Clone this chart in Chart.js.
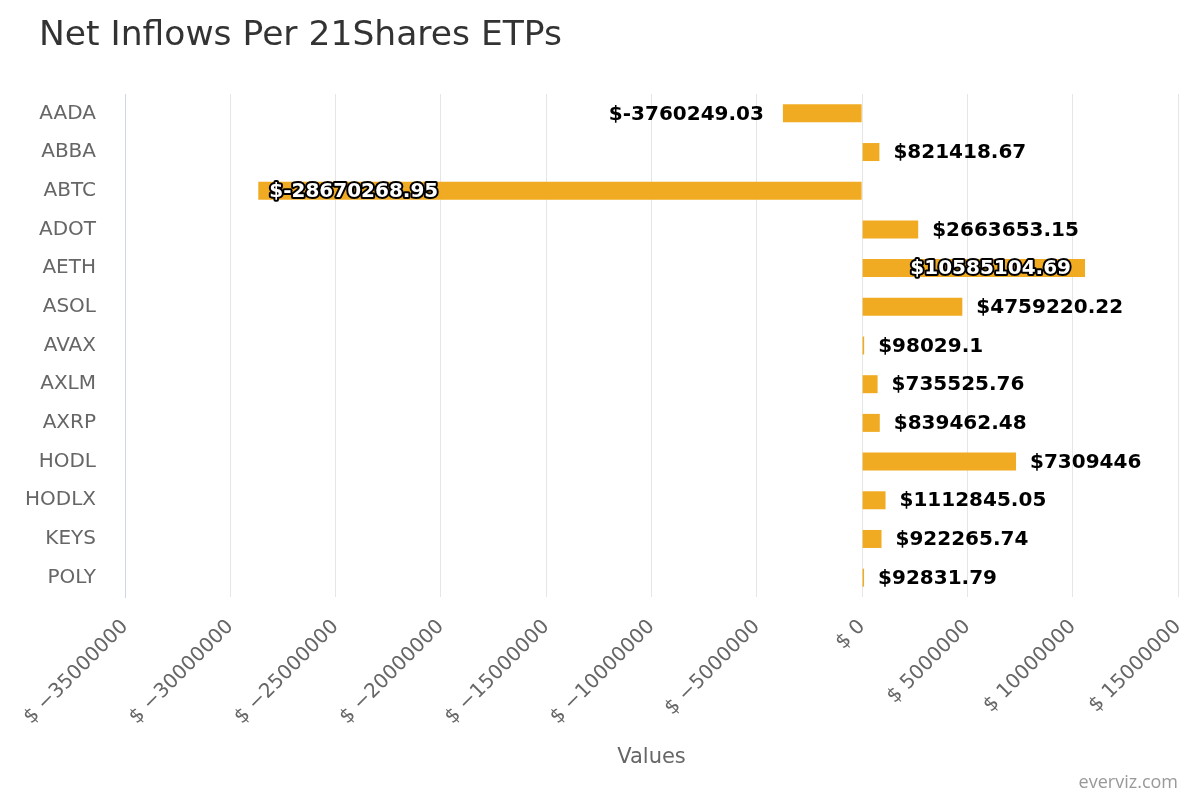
<!DOCTYPE html>
<html>
<head>
<meta charset="utf-8">
<script src="https://cdn.jsdelivr.net/npm/chart.js@4"></script>
<style>
  body { margin: 0; background: #fff; }
  #wrap { width: 1200px; height: 800px; position: relative; }
</style>
</head>
<body>
<div id="wrap"><canvas id="inflowChart"></canvas></div>
<script>
// data
const tickers = ['AADA', 'ABBA', 'ABTC', 'ADOT', 'AETH', 'ASOL', 'AVAX', 'AXLM', 'AXRP', 'HODL', 'HODLX', 'KEYS', 'POLY'];
const netInflows = [-3760249.03, 821418.67, -28670268.95, 2663653.15, 10585104.69, 4759220.22, 98029.1, 735525.76, 839462.48, 7309446, 1112845.05, 922265.74, 92831.79];
const xMin = -35000000;
const xMax = 15000000;
const xStep = 5000000;

const barColor = '#f0ab22';
const chartTitle = 'Net Inflows Per 21Shares ETPs';

// Draws title, value labels next to (or inside) each bar, plus the credit text
const valueLabels = {
  id: 'valueLabels',
  afterDatasetsDraw(chart) {
    const ctx = chart.ctx;
    const area = chart.chartArea;
    const meta = chart.getDatasetMeta(0);
    ctx.save();
    // title
    ctx.font = '34.5px "DejaVu Sans"';
    ctx.fillStyle = '#333';
    ctx.textAlign = 'left';
    ctx.textBaseline = 'middle';
    ctx.fillText(chartTitle, 39, 36);

    ctx.font = 'bold 20px "DejaVu Sans"';
    meta.data.forEach((bar, i) => {
      const v = netInflows[i];
      const text = '$' + v;
      const w = ctx.measureText(text).width;
      let x, align, inside = false;
      if (v >= 0) {
        x = bar.x + 14; align = 'left';
        if (x + w > area.right) { x = bar.x - 14; align = 'right'; inside = true; }
      } else {
        x = bar.x - 19; align = 'right';
        if (x - w < area.left) { x = bar.x + 11; align = 'left'; inside = true; }
      }
      ctx.textAlign = align;
      if (inside) {
        ctx.lineJoin = 'round';
        ctx.lineWidth = 4;
        ctx.strokeStyle = '#000';
        ctx.strokeText(text, x, bar.y + 1);
        ctx.fillStyle = '#fff';
      } else {
        ctx.fillStyle = '#000';
      }
      ctx.fillText(text, x, bar.y + 1);
    });
    // credit
    ctx.font = '18px "Open Sans"';
    ctx.fillStyle = '#999';
    ctx.textAlign = 'right';
    ctx.fillText('everviz.com', 1178, 783);
    ctx.restore();
  }
};

const inflowChart = new Chart(document.getElementById('inflowChart'), {
  type: 'bar',
  data: {
    labels: tickers,
    datasets: [
      {
        label: 'Net Inflows',
        data: netInflows,
        backgroundColor: barColor,
        borderWidth: 0,
        barPercentage: 0.465,
        categoryPercentage: 1
      }
    ]
  },
  options: {
    indexAxis: 'y',
    responsive: true,
    maintainAspectRatio: false,
    animation: false,
    layout: { padding: { left: 0, right: 22, top: 94, bottom: 30 } },
    plugins: {
      legend: { display: false },
      tooltip: { enabled: false },
      title: { display: false }
    },
    scales: {
      x: {
        min: xMin,
        max: xMax,
        ticks: {
          stepSize: xStep,
          maxRotation: 45,
          minRotation: 45,
          padding: 18,
          color: '#666',
          font: { family: '"DejaVu Sans"', size: 20 },
          callback: (v) => '$ ' + String(v).replace('-', '\u2212')
        },
        grid: { color: '#e6e6e6', drawTicks: false, lineWidth: 1 },
        border: { display: false },
        title: {
          display: true,
          text: 'Values',
          color: '#666',
          font: { family: '"DejaVu Sans"', size: 21 },
          padding: { top: 0, bottom: 0 }
        },
        afterFit(scale) {
          scale.height = 173;
          scale.paddingLeft = 0;
          scale.paddingRight = 0;
        }
      },
      y: {
        offset: true,
        ticks: {
          color: '#666',
          padding: 29,
          font: { family: '"DejaVu Sans"', size: 20 }
        },
        grid: { display: false, drawTicks: false },
        border: { display: true, color: '#ccd6eb', width: 1 },
        afterFit(scale) {
          scale.width = 125;
          scale.paddingTop = 0;
          scale.paddingBottom = 0;
        }
      }
    }
  },
  plugins: [valueLabels]
});
</script>
</body>
</html>
